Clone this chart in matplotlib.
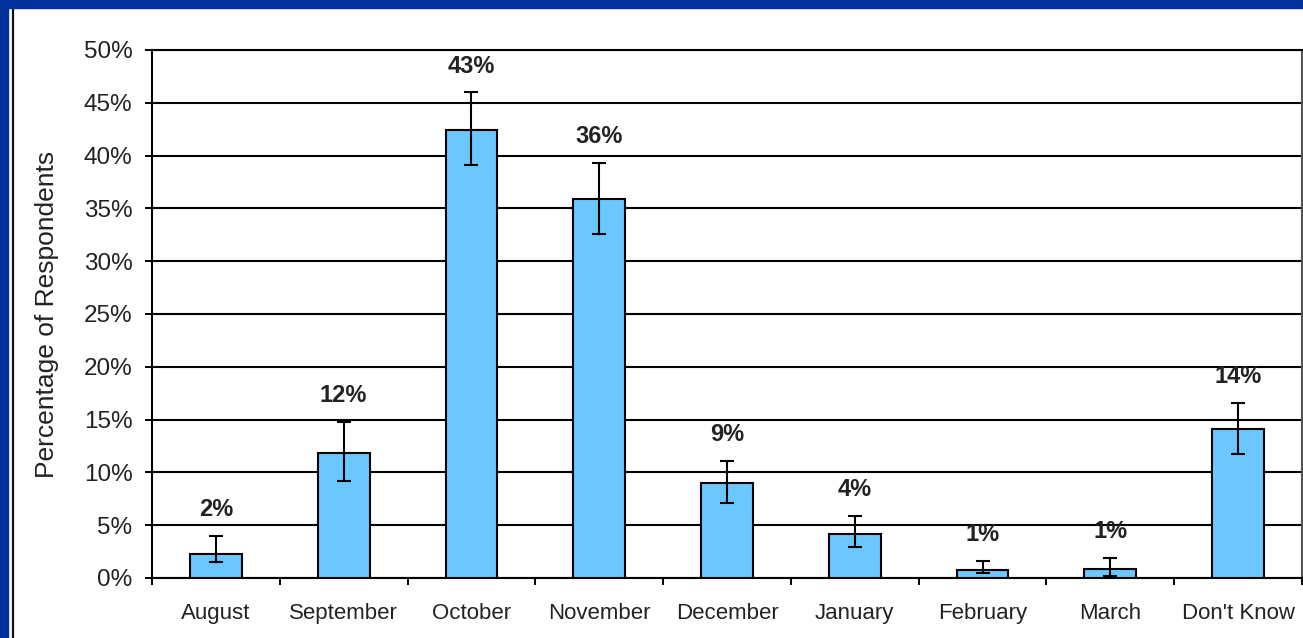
import matplotlib
matplotlib.use("Agg")
import matplotlib.pyplot as plt
from matplotlib.patches import Rectangle
from matplotlib.lines import Line2D
import numpy as np

# ---- data ----
categories = ["August", "September", "October", "November", "December",
              "January", "February", "March", "Don't Know"]
values = [2.3, 11.8, 42.4, 35.9, 9.0, 4.2, 0.8, 0.85, 14.1]
err_low = [1.5, 9.2, 39.1, 32.6, 7.1, 2.9, 0.45, 0.15, 11.7]
err_high = [4.0, 14.8, 46.0, 39.3, 11.1, 5.9, 1.65, 1.9, 16.6]
labels = ["2%", "12%", "43%", "36%", "9%", "4%", "1%", "1%", "14%"]
yticks = [0, 5, 10, 15, 20, 25, 30, 35, 40, 45, 50]
ytick_labels = [f"{t}%" for t in yticks]

plt.rcParams['font.family'] = ['Liberation Sans', 'DejaVu Sans']

W, H = 1303, 638
fig = plt.figure(figsize=(W / 100, H / 100), dpi=100)
fig.patch.set_facecolor("white")

ax = fig.add_axes([152 / W, 1 - 578 / H, 1150 / W, 528 / H])

x = np.arange(len(categories))
vals = np.array(values)
lo = vals - np.array(err_low)
hi = np.array(err_high) - vals

ax.set_axisbelow(True)
ax.yaxis.grid(True, color="black", linewidth=1.5)
ax.bar(x, vals, width=0.405, color="#6CC6FF", edgecolor="black",
       linewidth=1.5, zorder=3)
ax.errorbar(x, vals, yerr=[lo, hi], fmt="none", ecolor="black",
            elinewidth=1.5, capsize=5, capthick=1.5, zorder=4)

for xi, top, lab in zip(x, err_high, labels):
    ax.annotate(lab, (xi, top), xytext=(0, 10.5), textcoords="offset points",
                ha="center", va="bottom", fontsize=17, fontweight="bold",
                color="#222222")

ax.set_xlim(-0.5, len(categories) - 0.5)
ax.set_ylim(0, 50)
ax.set_yticks(yticks)
ax.set_yticklabels(ytick_labels)
ax.set_xticks(x)
ax.set_xticklabels(categories)
ax.set_xticks(np.arange(len(categories) + 1) - 0.5, minor=True)

ax.tick_params(axis="y", which="major", direction="out", length=5,
               width=1.4, labelsize=17.5, pad=9, colors="black",
               labelcolor="#222222")
ax.tick_params(axis="x", which="major", length=0, labelsize=16, pad=18,
               labelcolor="#222222")
ax.tick_params(axis="x", which="minor", direction="out", length=5,
               width=1.4, color="black")

for side in ["left", "bottom", "top", "right"]:
    ax.spines[side].set_color("black")
    ax.spines[side].set_linewidth(1.5)
ax.spines["right"].set_color("#555555")

ax.set_ylabel("Percentage of Respondents", fontsize=19, color="#222222")
ax.yaxis.set_label_coords(-0.081, 0.5)

# slide frame
fig.patches.append(Rectangle((0, 1 - 8 / H), 1, 8 / H, transform=fig.transFigure,
                             color="#00309A", zorder=10))
fig.patches.append(Rectangle((0, 0), 8 / W, 1, transform=fig.transFigure,
                             color="#00309A", zorder=10))
fig.lines.append(Line2D([13 / W, 13 / W], [0, 1 - 8 / H], transform=fig.transFigure,
                        color="#111111", linewidth=1.6, zorder=9))

fig.savefig("out.png", dpi=100, facecolor="white")
